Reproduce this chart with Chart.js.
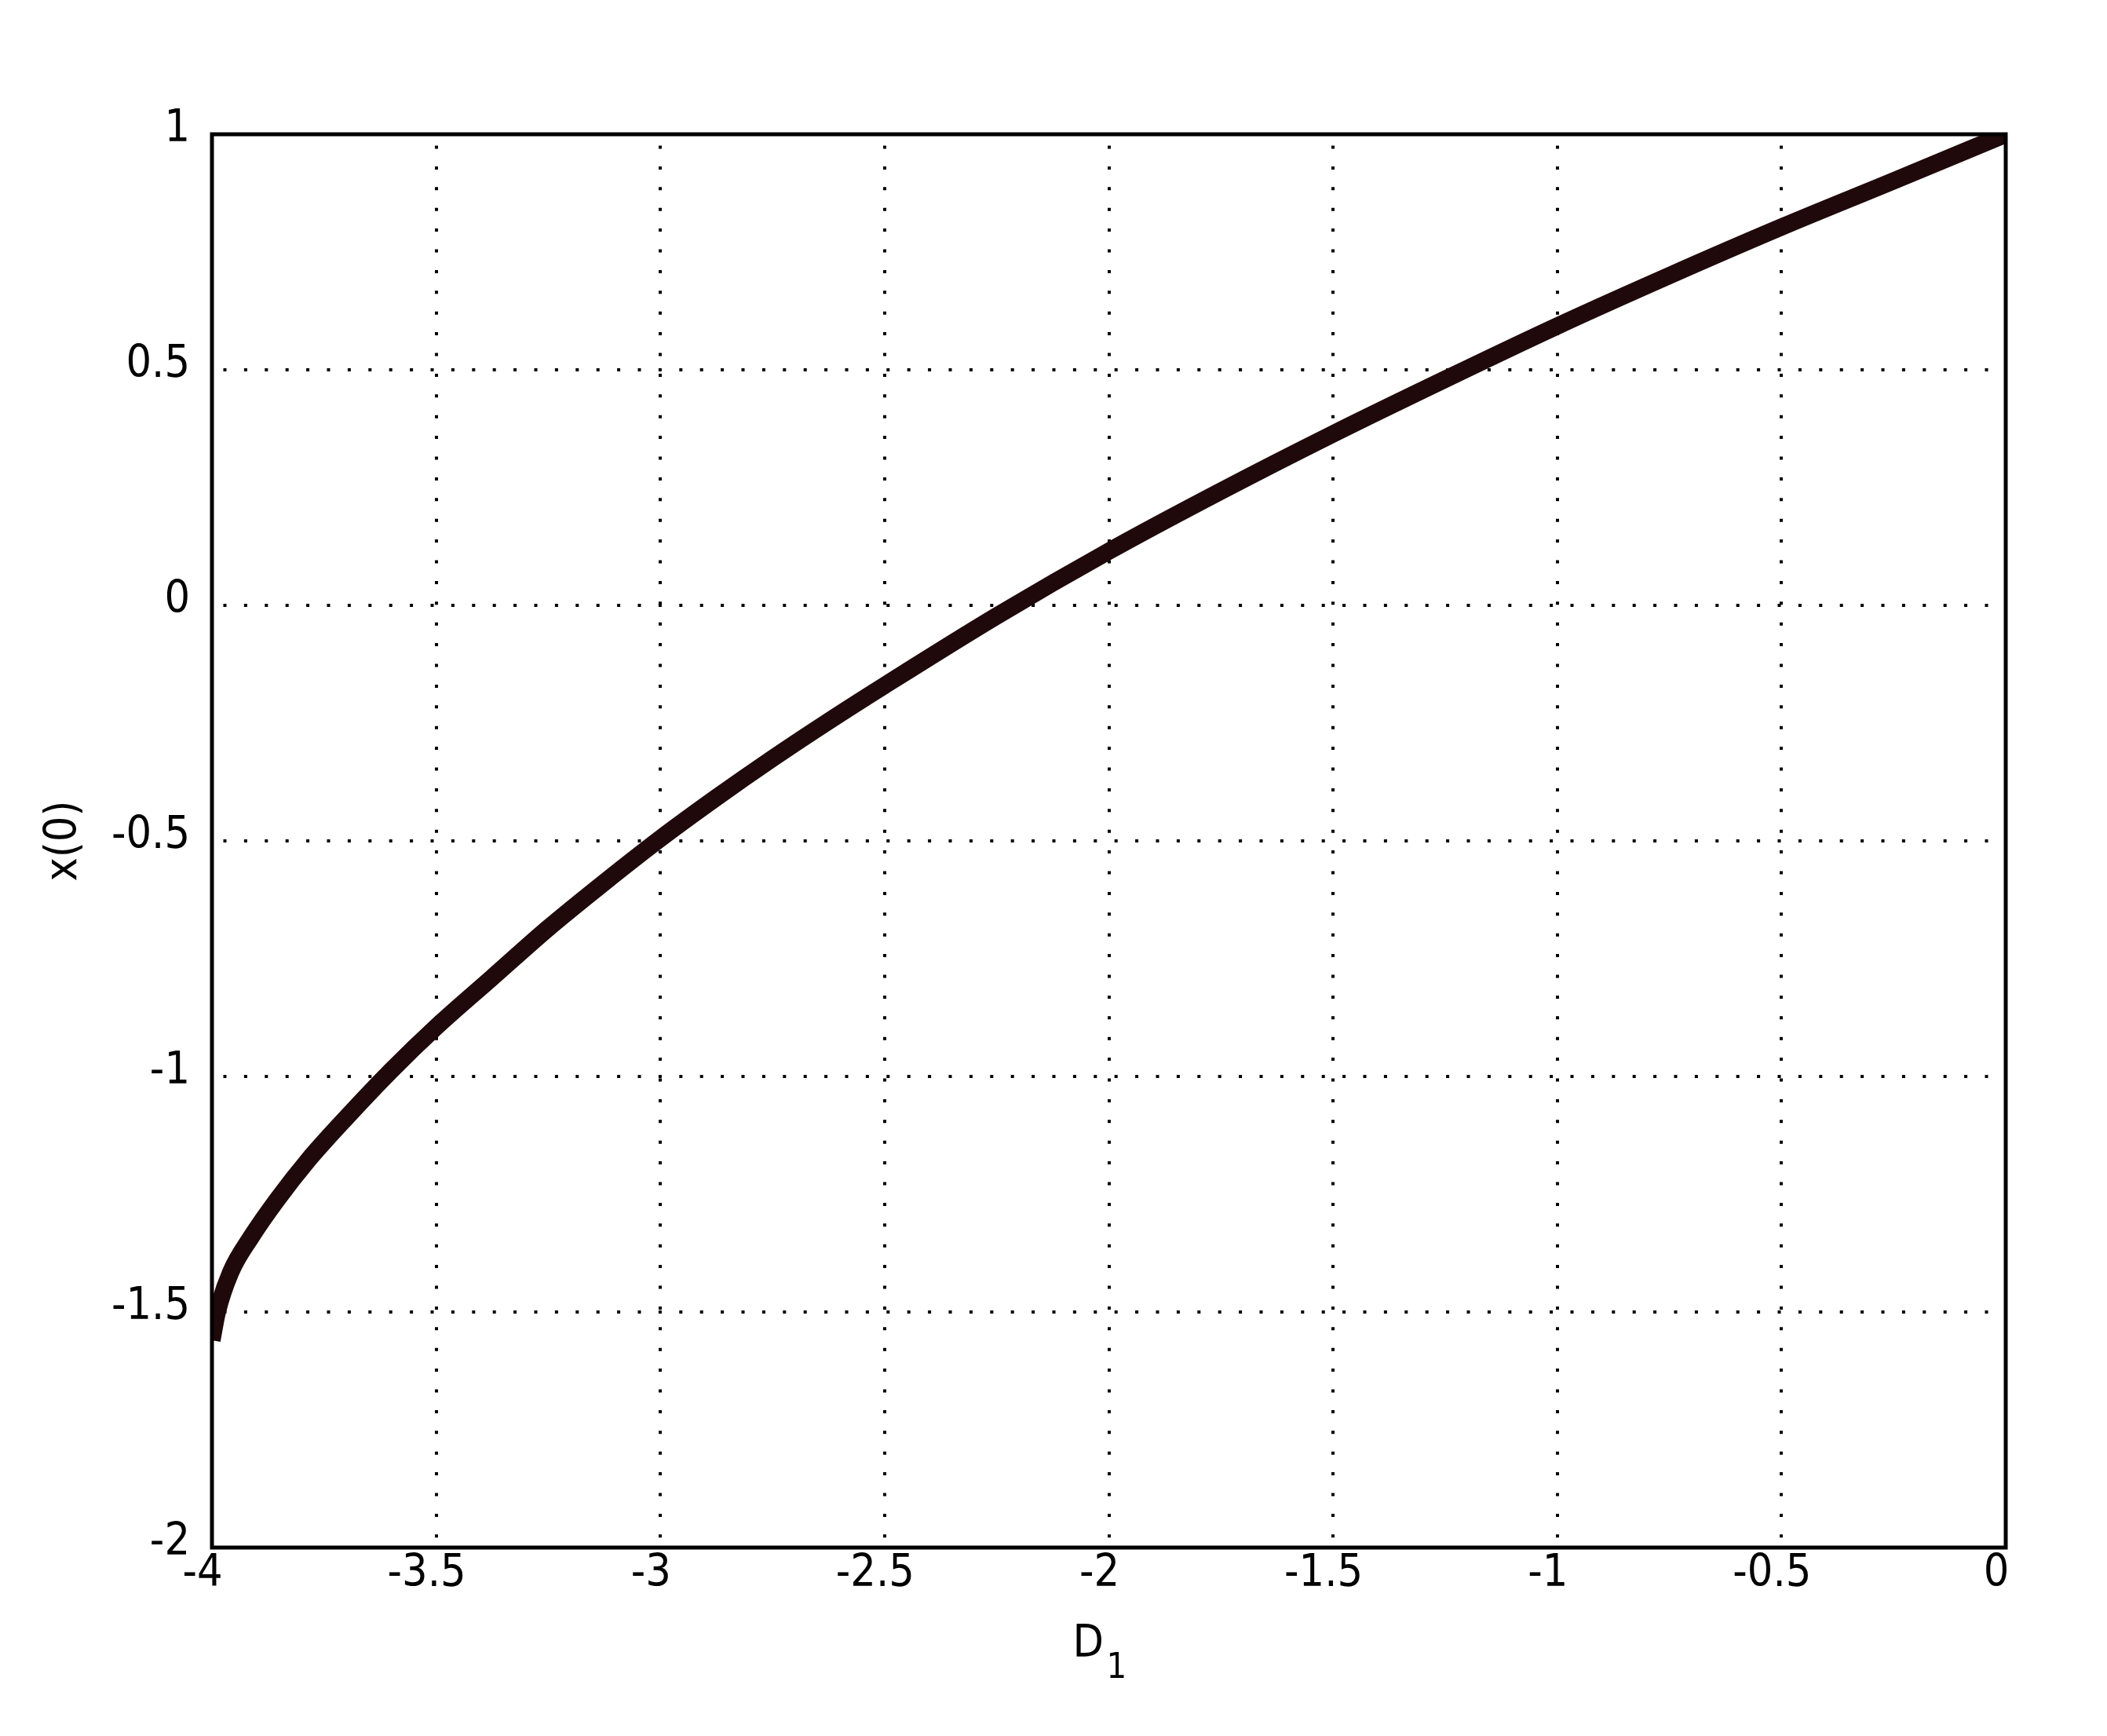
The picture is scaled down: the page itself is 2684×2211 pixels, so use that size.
<!DOCTYPE html>
<html>
<head>
<meta charset="utf-8">
<script src="https://cdn.jsdelivr.net/npm/chart.js@4.4.1/dist/chart.umd.min.js"></script>
<style>
  html, body { margin: 0; padding: 0; background: #ffffff; }
  canvas { display: block; }
</style>
</head>
<body>
<canvas id="chart" width="2684" height="2211"></canvas>
<script>
// ---- data ----
const d1Values = [-4.0, -3.988, -3.958, -3.912, -3.855, -3.785, -3.7, -3.6, -3.5, -3.375, -3.25, -3.125, -3.0, -2.875, -2.75, -2.625, -2.5, -2.25, -2.0, -1.75, -1.5, -1.25, -1.0, -0.75, -0.5, -0.25, 0.0];
const x0Values = [-1.56, -1.5, -1.415, -1.34, -1.262, -1.177, -1.087, -0.987, -0.895, -0.79, -0.685, -0.588, -0.495, -0.408, -0.325, -0.246, -0.17, -0.0225, 0.115, 0.2425, 0.364, 0.48, 0.593, 0.7, 0.803, 0.901, 1.0];
const xTickValues = [-4, -3.5, -3, -2.5, -2, -1.5, -1, -0.5, 0];
const xTickLabels = ['-4', '-3.5', '-3', '-2.5', '-2', '-1.5', '-1', '-0.5', '0'];
const yTickValues = [-2, -1.5, -1, -0.5, 0, 0.5, 1];
const yTickLabels = ['-2', '-1.5', '-1', '-0.5', '0', '0.5', '1'];
const xTitleMain = 'D';
const xTitleSub = '1';
const yTitle = 'x(0)';

const FONT = "'Liberation Sans Narrow', 'DejaVu Sans Condensed', 'Liberation Sans', sans-serif";
const points = d1Values.map((v, i) => ({ x: v, y: x0Values[i] }));

const gridStyle = {
  color: '#000000',
  lineWidth: 4,
  drawTicks: false
};
const borderStyle = {
  display: false,
  dash: [4, 22.4],
  dashOffset: 11.9
};

const framePlugin = {
  id: 'frameAndTitle',
  afterDraw(chart) {
    const { ctx, chartArea: a } = chart;
    ctx.save();
    ctx.strokeStyle = '#000000';
    ctx.lineWidth = 5;
    ctx.setLineDash([]);
    ctx.strokeRect(a.left, a.top, a.right - a.left, a.bottom - a.top);
    const cx = (a.left + a.right) / 2;
    ctx.fillStyle = '#000000';
    ctx.textBaseline = 'alphabetic';
    ctx.textAlign = 'left';
    ctx.font = '57px ' + FONT;
    ctx.fillText(xTitleMain, cx - 46, a.bottom + 139);
    ctx.font = '45px ' + FONT;
    ctx.fillText(xTitleSub, cx - 3, a.bottom + 166);
    ctx.restore();
  }
};

new Chart(document.getElementById('chart'), {
  type: 'line',
  data: {
    datasets: [{
      data: points,
      borderColor: '#1f090b',
      borderWidth: 22,
      pointRadius: 0,
      fill: false,
      cubicInterpolationMode: 'monotone',
      borderCapStyle: 'butt',
      clip: 0
    }]
  },
  plugins: [framePlugin],
  options: {
    responsive: false,
    animation: false,
    devicePixelRatio: 1,
    layout: { padding: { left: 0, top: 171, right: 129, bottom: 0 } },
    plugins: { legend: { display: false }, tooltip: { enabled: false }, title: { display: false } },
    scales: {
      x: {
        type: 'linear',
        min: -4,
        max: 0,
        grid: gridStyle,
        border: borderStyle,
        afterBuildTicks: (s) => { s.ticks = xTickValues.map(v => ({ value: v })); },
        afterFit: (s) => { s.height = 240; },
        ticks: {
          color: '#000000',
          font: { family: FONT, size: 57, lineHeight: 1.2 },
          padding: 0,
          labelOffset: -12,
          maxRotation: 0,
          autoSkip: false,
          callback: (v) => { const i = xTickValues.indexOf(v); return i >= 0 ? xTickLabels[i] : ''; }
        }
      },
      y: {
        type: 'linear',
        min: -2,
        max: 1,
        grid: gridStyle,
        border: borderStyle,
        afterBuildTicks: (s) => { s.ticks = yTickValues.map(v => ({ value: v })); },
        afterFit: (s) => { s.width = 270; },
        title: {
          display: true,
          text: yTitle,
          color: '#000000',
          font: { family: FONT, size: 57, lineHeight: 1.2 },
          padding: { top: 48, bottom: 0 }
        },
        ticks: {
          color: '#000000',
          font: { family: FONT, size: 57, lineHeight: 1.2 },
          padding: 28,
          labelOffset: -6,
          autoSkip: false,
          callback: (v) => { const i = yTickValues.indexOf(v); return i >= 0 ? yTickLabels[i] : ''; }
        }
      }
    }
  }
});
</script>
</body>
</html>
